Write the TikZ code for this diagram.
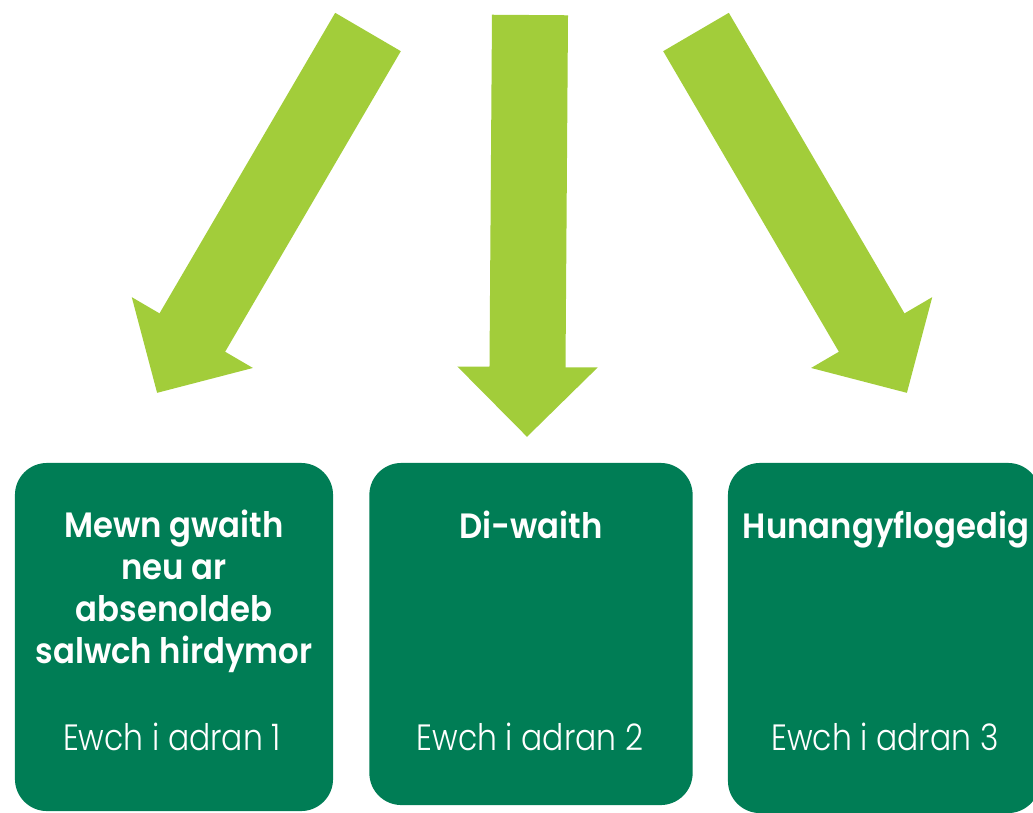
\documentclass[tikz,border=0pt]{standalone}
\usepackage{fontspec}
\setmainfont{Poppins}
\newfontfamily\headfont{Poppins SemiBold}[FakeStretch=0.92]
\newfontfamily\lightfont{Poppins Light}[FakeStretch=0.86]
\usetikzlibrary{arrows.meta,positioning}
\definecolor{lime}{RGB}{162,205,58}
\definecolor{bottle}{RGB}{0,125,85}

\begin{document}
\begin{tikzpicture}[
	x=0.025cm,
	y=-0.025cm,
	flow/.style={line width=1.9cm, lime, -{Triangle[length=1.75cm, width=3.4cm]}}
]
\tikzset{
    box/.style = {fill=bottle, rounded corners=0.8cm, inner sep=0pt},
    title/.style = {anchor=base, text=white, align=center, font=\headfont\fontsize{25}{29.7}\selectfont},
    goto/.style = {anchor=base, text=white, font=\lightfont\fontsize{26}{32}\selectfont},
}
    \useasboundingbox (0,0) rectangle (1033,812);

    % arrows
    \coordinate (t1) at (368,32);
    \coordinate (h1) at (157,393);
    \coordinate (t2) at (530,15);
    \coordinate (h2) at (527,437);
    \coordinate (t3) at (696,32);
    \coordinate (h3) at (907,393);
    \draw[flow] (t1) -- (h1);
    \draw[flow] (t2) -- (h2);
    \draw[flow] (t3) -- (h3);

    % boxes
    \node (box1) [box, minimum width=7.95cm, minimum height=8.7cm] at (174,637) {};
    \node (box2) [box, minimum width=8.08cm, minimum height=8.55cm] at (531,634) {};
    \node (box3) [box, minimum width=7.8cm, minimum height=8.75cm] at (884,638) {};

    % base sits on the last line
    \node (n1) [title] at (174,663) {Mewn gwaith\\neu ar\\absenoldeb\\salwch hirdymor};
    \node (n2) [title] at (531,538) {Di-waith};
    \node (n3) [title] at (886,538) {Hunangyflogedig};

    \node (g1) [goto] at (172,750) {Ewch i adran 1};
    \node (g2) [goto] at (530,750) {Ewch i adran 2};
    \node (g3) [goto] at (885,750) {Ewch i adran 3};
\end{tikzpicture}
\end{document}
